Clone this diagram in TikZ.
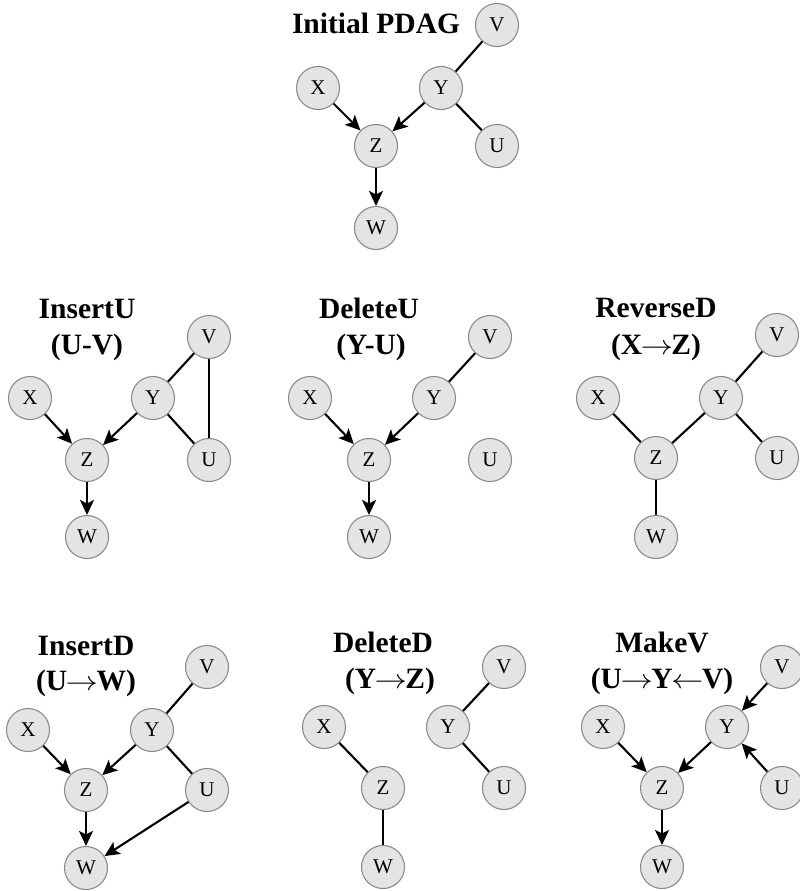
\documentclass[tikz,border=0pt]{standalone}
\usepackage{fontspec}
\setmainfont{Liberation Serif}
\usetikzlibrary{arrows.meta}
\definecolor{nodefill}{HTML}{E4E4E4}
\definecolor{nodeline}{HTML}{8A8A8A}
\newcommand{\rar}{\kern-1.5pt\scalebox{1.3}[1.1]{$\rightarrow$}\kern-1.5pt}
\newcommand{\lar}{\kern-1.5pt\scalebox{1.3}[1.1]{$\leftarrow$}\kern-1.5pt}
\tikzset{
  vnode/.style={circle, draw=nodeline, fill=nodefill, line width=1.1pt, minimum size=43pt, inner sep=0pt, font=\fontsize{21}{21}\selectfont},
  ttl/.style={anchor=base, inner sep=0pt, font=\bfseries\fontsize{29.5}{34}\selectfont},
  und/.style={line width=2.1pt},
  dir/.style={line width=2.1pt, -{Stealth[length=15pt,width=14pt,inset=3.5pt]}},
}
\newcommand{\pdagnodes}[7]{%
  % #1 prefix, #2..#7 : X Y V Z U W positions
  \node[vnode] (#1X) at (#2) {X};
  \node[vnode] (#1Y) at (#3) {Y};
  \node[vnode] (#1V) at (#4) {V};
  \node[vnode] (#1Z) at (#5) {Z};
  \node[vnode] (#1U) at (#6) {U};
  \node[vnode] (#1W) at (#7) {W};
}
\begin{document}
\begin{tikzpicture}[x=1pt,y=-1pt]
\useasboundingbox (0,0) rectangle (800,891);

% Initial PDAG
\node[ttl] (t0) at (376,34) {Initial PDAG};
\pdagnodes{a}{318,88}{441,88}{497,25}{376,146}{497,146}{376,228}
\draw[dir] (aX) -- (aZ);
\draw[dir] (aY) -- (aZ);
\draw[dir] (aZ) -- (aW);
\draw[und] (aY) -- (aV);
\draw[und] (aY) -- (aU);

% InsertU
\node[ttl] (t1a) at (87,318) {InsertU};
\node[ttl] (t1b) at (87,354) {(U-V)};
\pdagnodes{b}{30,398}{153,398}{209,337}{87,460}{209,460}{87,537}
\draw[dir] (bX) -- (bZ);
\draw[dir] (bY) -- (bZ);
\draw[dir] (bZ) -- (bW);
\draw[und] (bY) -- (bV);
\draw[und] (bY) -- (bU);
\draw[und] (bU) -- (bV);

% DeleteU
\node[ttl] (t2a) at (369,318) {DeleteU};
\node[ttl] (t2b) at (371,354) {(Y-U)};
\pdagnodes{c}{310,398}{434,398}{490,337}{369,460}{490,460}{369,537}
\draw[dir] (cX) -- (cZ);
\draw[dir] (cY) -- (cZ);
\draw[dir] (cZ) -- (cW);
\draw[und] (cY) -- (cV);

% ReverseD
\node[ttl] (t3a) at (656,317) {ReverseD};
\node[ttl] (t3b) at (656,354) {(X\rar Z)};
\pdagnodes{d}{598,398}{721,398}{777,335}{656,458}{777,458}{656,537}
\draw[und] (dX) -- (dZ);
\draw[und] (dY) -- (dZ);
\draw[und] (dZ) -- (dW);
\draw[und] (dY) -- (dV);
\draw[und] (dY) -- (dU);

% InsertD
\node[ttl] (t4a) at (86,655) {InsertD};
\node[ttl] (t4b) at (86,690) {(U\rar W)};
\pdagnodes{e}{28,730}{152,730}{207,667}{86,790}{207,790}{86,868}
\draw[dir] (eX) -- (eZ);
\draw[dir] (eY) -- (eZ);
\draw[dir] (eZ) -- (eW);
\draw[und] (eY) -- (eV);
\draw[und] (eY) -- (eU);
\draw[dir] (eU) -- (eW);

% DeleteD
\node[ttl] (t5a) at (383,652) {DeleteD};
\node[ttl] (t5b) at (390,688) {(Y\rar Z)};
\pdagnodes{f}{324,727}{448,727}{504,667}{383,788}{504,788}{383,867}
\draw[und] (fX) -- (fZ);
\draw[und] (fZ) -- (fW);
\draw[und] (fY) -- (fV);
\draw[und] (fY) -- (fU);

% MakeV
\node[ttl] (t6a) at (662,652) {MakeV};
\node[ttl] (t6b) at (662,688) {(U\rar Y\lar V)};
\pdagnodes{g}{603,727}{727,727}{782,667}{662,788}{782,788}{662,867}
\draw[dir] (gX) -- (gZ);
\draw[dir] (gY) -- (gZ);
\draw[dir] (gZ) -- (gW);
\draw[dir] (gV) -- (gY);
\draw[dir] (gU) -- (gY);
\end{tikzpicture}
\end{document}
